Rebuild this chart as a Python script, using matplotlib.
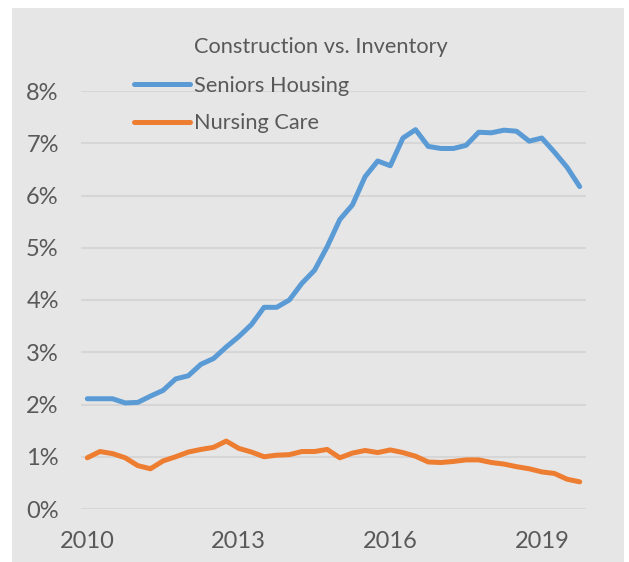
import numpy as np
import matplotlib
matplotlib.use('Agg')
import matplotlib.pyplot as plt
from matplotlib.patches import Rectangle
from matplotlib.ticker import FuncFormatter

plt.rcParams['font.family'] = ['Lato', 'DejaVu Sans']

# quarterly values, 2010 Q1 .. 2019 Q4 (percent of inventory)
seniors_housing = [2.11, 2.11, 2.11, 2.03, 2.04, 2.16, 2.27, 2.49, 2.55, 2.77,
                   2.88, 3.10, 3.30, 3.53, 3.86, 3.86, 4.00, 4.32, 4.57, 5.02,
                   5.54, 5.82, 6.36, 6.66, 6.57, 7.10, 7.26, 6.94, 6.90, 6.90,
                   6.96, 7.21, 7.20, 7.25, 7.23, 7.04, 7.10, 6.83, 6.54, 6.17]
nursing_care = [0.98, 1.10, 1.06, 0.98, 0.83, 0.77, 0.92, 1.00, 1.09, 1.14,
                1.18, 1.30, 1.16, 1.09, 1.00, 1.03, 1.04, 1.10, 1.10, 1.14,
                0.98, 1.07, 1.12, 1.08, 1.13, 1.08, 1.01, 0.90, 0.89, 0.91,
                0.94, 0.94, 0.89, 0.86, 0.81, 0.77, 0.71, 0.68, 0.57, 0.52]
year_ticks = [0, 12, 24, 36]
year_labels = ['2010', '2013', '2016', '2019']

text_color = '#595959'
bg = '#e7e6e6'

fig = plt.figure(figsize=(6.29, 5.62), dpi=100)
fig.patch.set_facecolor('white')
fig.patches.append(Rectangle((12 / 629, 0), 612 / 629, 554 / 562,
                             transform=fig.transFigure, facecolor=bg,
                             edgecolor='none', zorder=-10))

ax = fig.add_axes([81 / 629, 53 / 562, 505 / 629, 418 / 562])
ax.set_facecolor(bg)
ax.patch.set_alpha(0)

x = np.arange(len(seniors_housing))
ax.plot(x, seniors_housing, color='#5b9bd5', lw=3.6, solid_joinstyle='round',
        solid_capstyle='round', label='Seniors Housing', clip_on=False)
ax.plot(x, nursing_care, color='#ed7d31', lw=3.6, solid_joinstyle='round',
        solid_capstyle='round', label='Nursing Care', clip_on=False)

ax.set_xlim(-0.5, len(x) - 0.5)
ax.set_ylim(0, 8)
ax.set_yticks(range(0, 9))
ax.yaxis.set_major_formatter(FuncFormatter(lambda v, p: f'{v:.0f}%'))
ax.set_xticks(year_ticks)
ax.set_xticklabels(year_labels)

ax.grid(axis='y', color='#d6d6d6', lw=1.5)
ax.set_axisbelow(True)
for s in ax.spines.values():
    s.set_visible(False)
ax.tick_params(length=0, labelsize=17, labelcolor=text_color)
ax.tick_params(axis='y', pad=16)
ax.tick_params(axis='x', pad=15.5)

fig.text(321 / 629, 1 - 53 / 562, 'Construction vs. Inventory', ha='center',
         va='baseline', fontsize=15.7, color=text_color)

leg = ax.legend(loc='upper left', bbox_to_anchor=(134 / 629, 1 - 76 / 562),
                bbox_transform=fig.transFigure, frameon=False, fontsize=15.7,
                handlelength=2.57, handletextpad=0.18, labelspacing=0.8,
                borderpad=0, borderaxespad=0)
for t in leg.get_texts():
    t.set_color(text_color)

fig.savefig('out.png', dpi=100)
